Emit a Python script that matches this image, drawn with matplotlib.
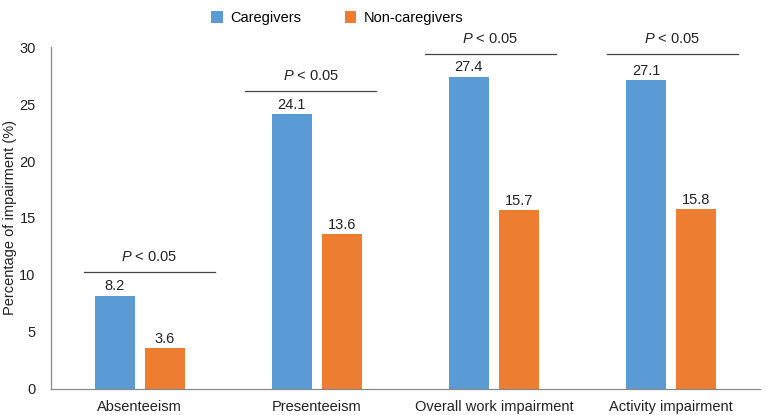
import numpy as np
import matplotlib.pyplot as plt

plt.rcParams['font.family'] = ['Liberation Sans', 'DejaVu Sans']
plt.rcParams['mathtext.fontset'] = 'custom'
plt.rcParams['mathtext.it'] = 'Liberation Sans:italic'
plt.rcParams['mathtext.rm'] = 'Liberation Sans'

categories = ["Absenteeism", "Presenteeism", "Overall work impairment", "Activity impairment"]
caregivers = [8.2, 24.1, 27.4, 27.1]
non_caregivers = [3.6, 13.6, 15.7, 15.8]
p_labels = ["P < 0.05", "P < 0.05", "P < 0.05", "P < 0.05"]
p_line_y = [10.3, 26.1, 29.35, 29.35]

blue = "#5B9BD5"
orange = "#ED7D31"

fig = plt.figure(figsize=(7.66, 4.15), dpi=100)
ax = fig.add_axes([0.0666, 0.0627, 0.925, 0.824])

x = np.arange(len(categories))
w = 0.226
off = 0.141
b1 = ax.bar(x - off, caregivers, w, color=blue, label="Caregivers")
b2 = ax.bar(x + off, non_caregivers, w, color=orange, label="Non-caregivers")

for bars, vals in ((b1, caregivers), (b2, non_caregivers)):
    for b, v in zip(bars, vals):
        ax.text(b.get_x() + b.get_width() / 2, v + 0.2, f"{v}", ha="center", va="bottom",
                fontsize=10.5, color="#222222")

# significance lines, drawn by hand in the original so slightly off-centre
shifts = [0.056, -0.034, -0.02, 0.006]
for i, (lab, yl) in enumerate(zip(p_labels, p_line_y)):
    cx = x[i] + shifts[i]
    ax.plot([cx - 0.37, cx + 0.37], [yl, yl], color="#444444", lw=0.9, clip_on=False)
    ax.text(cx, yl + 0.7, r"$\it{P}$ < 0.05", ha="center", va="bottom", fontsize=10.5,
            color="#222222", clip_on=False)

ax.set_xlim(-0.5, 3.5)
ax.set_ylim(0, 30)
ax.set_yticks([0, 5, 10, 15, 20, 25, 30])
ax.set_xticks(x)
ax.set_xticklabels(categories)
ax.tick_params(axis="both", length=0, labelsize=10.5, colors="#222222")
ax.tick_params(axis="x", pad=8)
ax.tick_params(axis="y", pad=11)
for s in ["top", "right"]:
    ax.spines[s].set_visible(False)
for s in ["left", "bottom"]:
    ax.spines[s].set_color("#888888")
    ax.spines[s].set_linewidth(0.9)

fig.text(0.013, 0.475, "Percentage of impairment (%)", rotation=90, ha="center", va="center",
         fontsize=10.5, color="#222222")

fig.legend(handles=[b1, b2], loc="upper center", bbox_to_anchor=(0.44, 1.005), ncol=2,
           frameon=False, fontsize=10.5, handlelength=0.8, handleheight=0.8,
           columnspacing=3.0, handletextpad=0.5)

fig.savefig("out.png", dpi=100)
